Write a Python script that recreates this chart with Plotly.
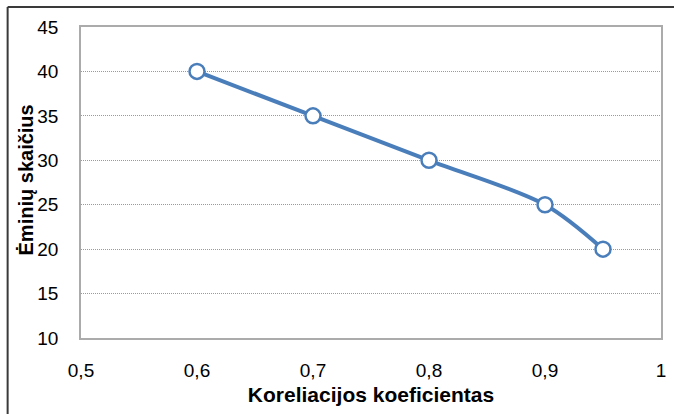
import plotly.graph_objects as go

# Sample size versus correlation coefficient
koreliacija = [0.6, 0.7, 0.8, 0.9, 0.95]
eminiu_skaicius = [40, 35, 30, 25, 20]

x_ticks = [0.5, 0.6, 0.7, 0.8, 0.9, 1.0]
x_tick_labels = ["0,5", "0,6", "0,7", "0,8", "0,9", "1"]
y_ticks = [10, 15, 20, 25, 30, 35, 40, 45]

W, H = 674, 414
ml, mr, mt, mb = 81, 8, 27, 76
pw, ph = W - ml - mr, H - mt - mb

fig = go.Figure()
fig.add_trace(go.Scatter(
    x=koreliacija,
    y=eminiu_skaicius,
    mode="lines+markers",
    line=dict(color="#4A7EBB", width=4, shape="spline", smoothing=0.9),
    marker=dict(size=15, color="white", line=dict(color="#4A7EBB", width=2.5)),
    showlegend=False,
))

font = "Liberation Sans, Arial, sans-serif"

# Outer chart frame (left and top edges)
fx0 = (7 - ml) / pw
fy1 = 1 + (mt - 7) / ph
fig.add_shape(type="line", xref="paper", yref="paper", x0=fx0, x1=fx0, y0=-1, y1=fy1,
              line=dict(color="#3a3a3a", width=2))
fig.add_shape(type="line", xref="paper", yref="paper", x0=fx0, x1=1.5, y0=fy1, y1=fy1,
              line=dict(color="#3a3a3a", width=2))

# Vertical axis title
fig.add_annotation(
    text="<b>Ėminių skaičius</b>", textangle=-90,
    xref="paper", yref="paper", x=(26 - ml) / pw, y=(338 - 180) / ph,
    xanchor="center", yanchor="middle", showarrow=False,
    font=dict(size=20),
)

fig.update_layout(
    width=W, height=H,
    margin=dict(l=ml, r=mr, t=mt, b=mb),
    paper_bgcolor="white",
    plot_bgcolor="white",
    font=dict(family=font, size=19, color="black"),
    xaxis=dict(
        range=[0.5, 1.0],
        tickvals=x_ticks,
        ticktext=x_tick_labels,
        showgrid=False,
        zeroline=False,
        showline=True, mirror=True, linecolor="#ABABAB", linewidth=1.5,
        ticks="", ticklabelstandoff=14,
        title=dict(text="<b>Koreliacijos koeficientas</b>", font=dict(size=21), standoff=8),
    ),
    yaxis=dict(
        range=[10, 45],
        tickvals=y_ticks,
        showgrid=True, gridcolor="#9a9a9a", griddash="1px,1px", gridwidth=1,
        zeroline=False,
        showline=True, mirror=True, linecolor="#ABABAB", linewidth=1.5,
        ticks="", ticklabelstandoff=17,
    ),
)

fig.write_html("out.html")
